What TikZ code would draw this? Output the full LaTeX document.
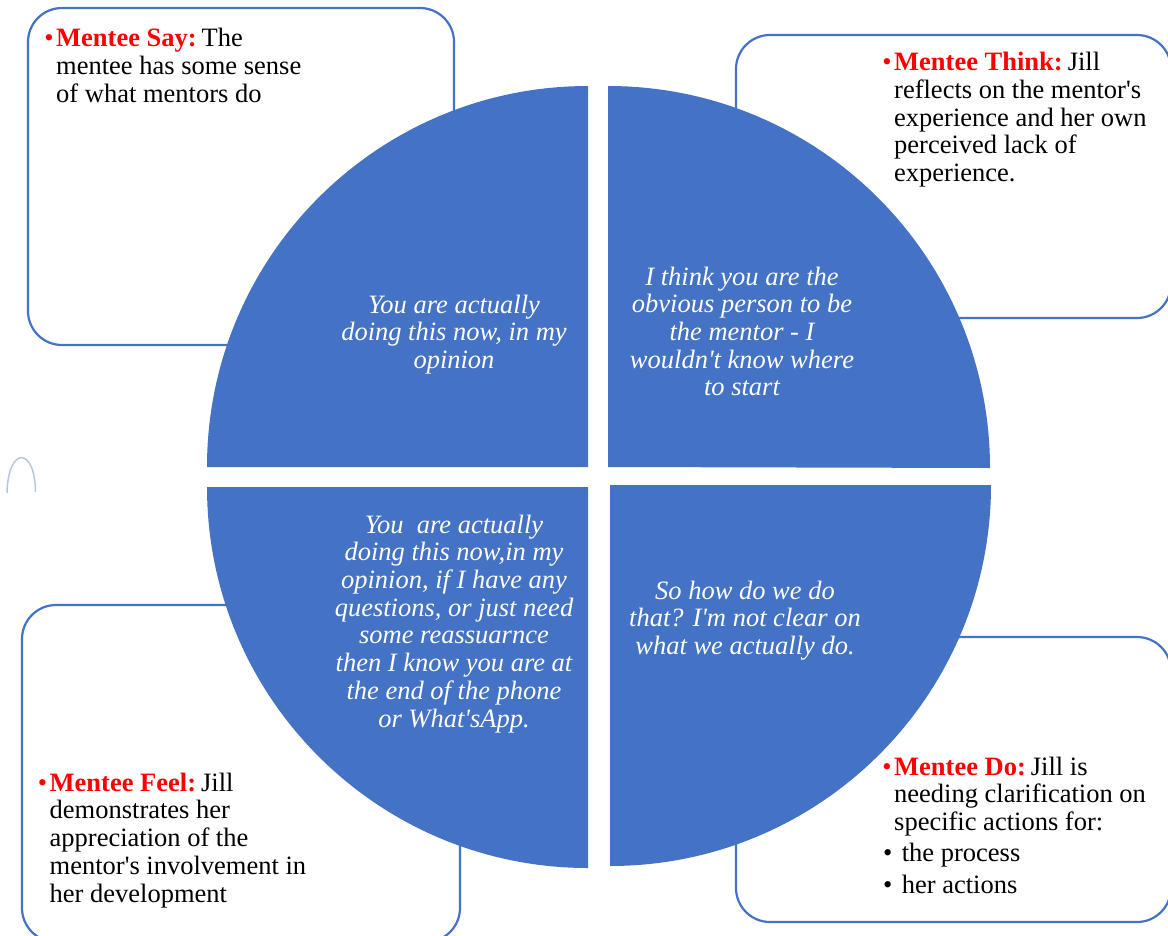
\documentclass[tikz,border=0pt]{standalone}
\usepackage{fontspec}
\setmainfont{Liberation Serif}
\usepackage{xcolor}
\definecolor{quadblue}{HTML}{4472C4}
\definecolor{ghostblue}{HTML}{B4C7E7}

\begin{document}
\begin{tikzpicture}[x=1pt,y=-1pt]
    \tikzstyle{quadfill} = [fill=quadblue]
    \tikzstyle{boxdraw} = [draw=quadblue,line width=2.2pt,rounded corners=34pt]
    \tikzstyle{quotetext} = [text=white,inner sep=0pt,anchor=north,align=center,
                             font=\fontsize{26.5}{27.7}\selectfont\itshape]
    \tikzstyle{notetext} = [text=black,inner sep=0pt,anchor=north west,align=left,
                            font=\fontsize{26.5}{27.7}\selectfont]

    \useasboundingbox (0,0) rectangle (1168,935);

    % outer boxes
    \draw[boxdraw] (28,8) rectangle (454,345);
    \draw[boxdraw] (736,35) rectangle (1171,318);
    \draw[boxdraw] (22,605) rectangle (460,942);
    \draw[boxdraw] (736,637) rectangle (1171,922);

    % stray arc on the left
    \draw[ghostblue,line width=1.5pt] (7,493) .. controls (8,446) and (35,446) .. (35.5,492);

    % the four quarters
    \fill[quadfill] (588,467) -- (207,467) arc[start angle=180,end angle=270,radius=381] -- cycle;
    \fill[quadfill] (608,467) -- (608,86) arc[start angle=270,end angle=360,radius=382] -- cycle;
    \fill[quadfill] (588,487) -- (588,868) arc[start angle=90,end angle=180,radius=381] -- cycle;
    \fill[quadfill] (610,485) -- (991,485) arc[start angle=0,end angle=90,radius=381] -- cycle;

    \node[quotetext] (saysq) at (454,293.6) {\strut You are actually\\ doing this now, in my\\ opinion};
    \node[quotetext] (thinksq) at (742,265.6) {\strut I think you are the\\ obvious person to be\\
        the mentor - I\\ wouldn\textquotesingle t know where\\ to start};
    \node[quotetext] (feelsq) at (454,513.6) {\strut You\ \ are actually\\ doing this now,in my\\
        opinion, if I have any\\ questions, or just need\\ some reassuarnce\\
        then I know you are at\\ the end of the phone\\ or What\textquotesingle sApp.};
    \node[quotetext] (dosq) at (745,579.6) {\strut So how do we do\\ that? I\textquotesingle m not clear on\\
        what we actually do.};

    % notes in the boxes
    \node[notetext] (saynote) at (56,27.1) {\strut\makebox[0pt][r]{\textcolor{red}{\textbullet}\hspace{2.5pt}}%
        \textcolor{red}{\textbf{Mentee Say:}}\hspace{5pt}The\\ mentee has some sense\\ of what mentors do};
    \node[notetext] (thinknote) at (894,51.3) {\strut\makebox[0pt][r]{\textcolor{red}{\textbullet}\hspace{2.5pt}}%
        \textcolor{red}{\textbf{Mentee Think:}}\hspace{5pt}Jill\\ reflects on the mentor\textquotesingle s\\
        experience and her own\\ perceived lack of\\ experience.};
    \node[notetext] (feelnote) at (49.5,771.6) {\strut\makebox[0pt][r]{\textcolor{red}{\textbullet}\hspace{2.5pt}}%
        \textcolor{red}{\textbf{Mentee Feel:}}\hspace{5pt}Jill\\ demonstrates her\\ appreciation of the\\
        mentor\textquotesingle s involvement in\\ her development};
    \node[notetext] (donote) at (894,755.6) {\strut\makebox[0pt][r]{\textcolor{red}{\textbullet}\hspace{2.5pt}}%
        \textcolor{red}{\textbf{Mentee Do:}}\hspace{5pt}Jill is\\ needing clarification on\\ specific actions for:};
    \node[notetext] (dolist) at (883,842.3) {\strut\textbullet\hspace{9.4pt}the process\\[3.8pt]
        \textbullet\hspace{9.4pt}her actions};
\end{tikzpicture}
\end{document}
